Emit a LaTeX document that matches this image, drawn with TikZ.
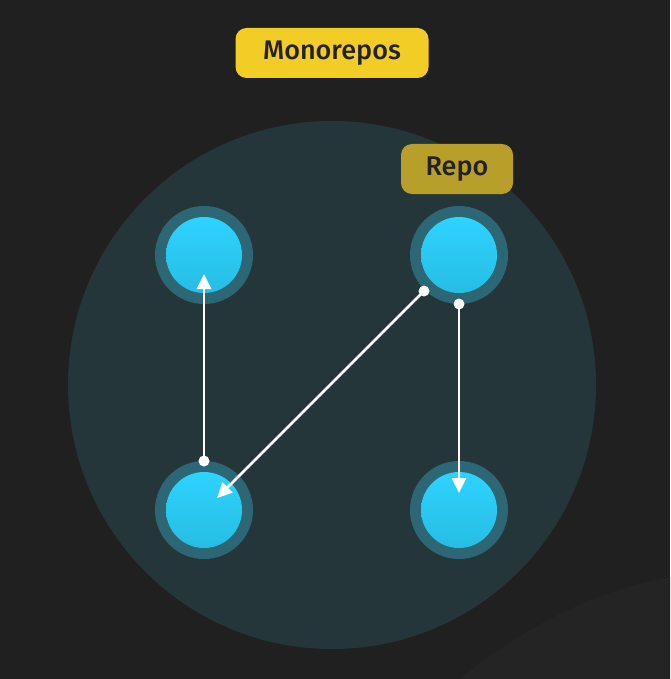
\documentclass[tikz,border=0pt]{standalone}
\usepackage{fontspec}
\setmainfont{Fira Sans}[BoldFont={Fira Sans Medium}]
\usetikzlibrary{arrows.meta}
\definecolor{bg}{HTML}{202020}
\definecolor{bgshape}{HTML}{242424}
\definecolor{bigcirc}{HTML}{25363B}
\definecolor{ringc}{HTML}{2D6674}
\definecolor{nodetop}{HTML}{2ED3FF}
\definecolor{nodebot}{HTML}{27BDE3}
\definecolor{yel}{HTML}{F2CD26}
\definecolor{yeldark}{HTML}{B89F2A}
\definecolor{txt}{HTML}{222222}
\tikzset{
  repo/.style={circle, minimum size=98pt, fill=ringc, inner sep=0pt},
  core/.style={circle, minimum size=76pt, inner sep=0pt, top color=nodetop, bottom color=nodebot},
  tag/.style={rounded corners=11pt, inner sep=0pt, text=txt, font=\fontsize{27}{30}\selectfont\bfseries},
  link/.style={draw=white, line width=2.7pt, -{Triangle[length=15pt,width=14pt]}},
  enddot/.style={circle, fill=white, inner sep=0pt, minimum size=11pt},
}
\begin{document}
\begin{tikzpicture}[x=1pt,y=-1pt]
\fill[bg] (0,0) rectangle (670,679);
\useasboundingbox (0,0) rectangle (670,679);
\fill[bgshape] (460,679) .. controls (530,622) and (600,590) .. (670,577) -- (670,679) -- cycle;
\fill[bigcirc] (332,385) circle (264);
\node[tag, fill=yel, minimum width=193pt, minimum height=50pt] (mono) at (332,53) {Monorepos};
\node[tag, fill=yeldark, minimum width=112pt, minimum height=50pt] (repolbl) at (457,169) {Repo};
\foreach \n/\x/\y in {tl/204/255, tr/459/255, bl/204/510, br/459/510}{
  \node[repo] (r\n) at (\x,\y) {};
  \node[core] (\n) at (\x,\y) {};
}
\node[enddot] (d1) at (204,461) {};
\node[enddot] (d2) at (424,291) {};
\node[enddot] (d3) at (459,304) {};
\coordinate (t1) at (204,274);
\coordinate (t2) at (217,498);
\coordinate (t3) at (459,493);
\draw[link] (d1.center) -- (t1);
\draw[link] (d2.center) -- (t2);
\draw[link] (d3.center) -- (t3);
\end{tikzpicture}
\end{document}
